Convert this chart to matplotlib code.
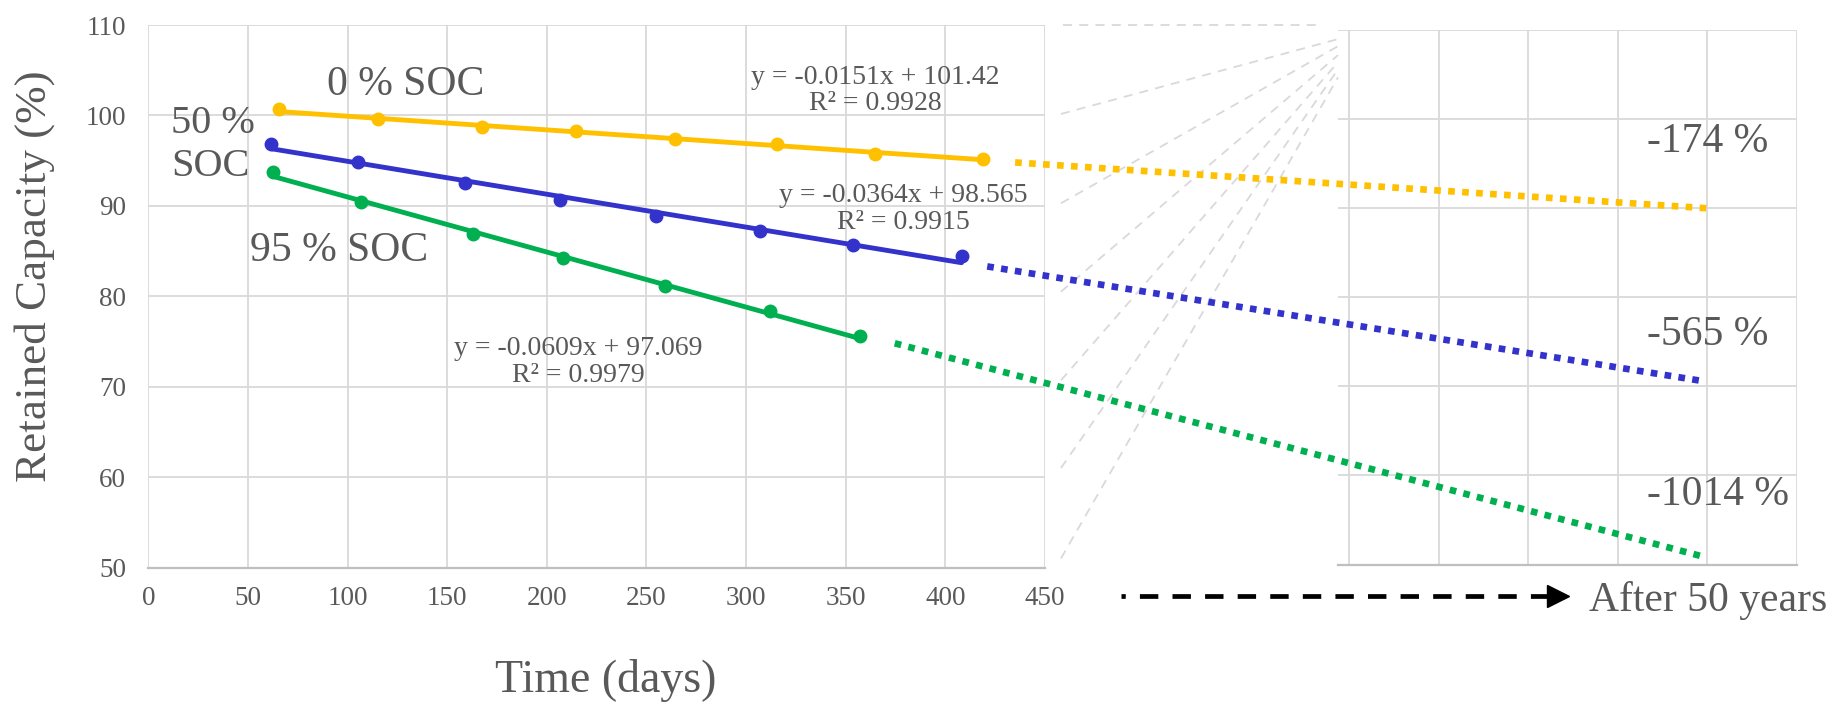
import matplotlib.pyplot as plt

plt.rcParams['font.family'] = ['Liberation Serif', 'DejaVu Serif']

# measured retained capacity (%) vs storage time (days)
days_0 = [65.5, 115.5, 167.7, 214.4, 264.4, 315.3, 364.7, 418.9]
cap_0 = [100.69, 99.58, 98.73, 98.29, 97.40, 96.85, 95.75, 95.23]
days_50 = [61.7, 105.4, 159.0, 206.4, 254.6, 307.1, 353.8, 408.1]
cap_50 = [96.85, 94.90, 92.54, 90.63, 88.90, 87.27, 85.69, 84.48]
days_95 = [62.5, 106.8, 163.0, 208.2, 259.4, 312.1, 357.2]
cap_95 = [93.72, 90.44, 86.91, 84.22, 81.08, 78.36, 75.60]

series_days = [days_0, days_50, days_95]
series_cap = [cap_0, cap_50, cap_95]
slopes = [-0.0151, -0.0364, -0.0609]
intercepts = [101.42, 98.565, 97.069]
r2 = [0.9928, 0.9915, 0.9979]
colors = ['#FFC000', '#3333CC', '#00B050']

# extrapolation: start on the days panel (days, %), end on the 50-year panel (column, %)
proj_start_x = [435, 421, 374.6]
proj_start_y = [94.8, 83.3, 74.8]
proj_end_x = [4.0, 3.95, 3.95]
proj_end_y = [90.0, 70.6, 50.9]
proj_labels = ['-174 %', '-565 %', '-1014 %']

# "zoom" fan lines between the panels
fan_from_y = [100.16, 90.28, 80.5, 70.7, 61.0, 51.0]
fan_to_y = [109.0, 108.2, 107.2, 106.4, 105.6, 104.7]

W, H = 1843, 707
txt = '#595959'
grid = '#D9D9D9'

fig = plt.figure(figsize=(W / 100, H / 100), dpi=100)


def box(l, t, r, b):
    return [l / W, 1 - b / H, (r - l) / W, (b - t) / H]


ax1 = fig.add_axes(box(148.3, 25, 1045, 567.5))
ax2 = fig.add_axes(box(1338, 30.2, 1796.6, 564.5))
ax2.patch.set_visible(False)

for ax in (ax1, ax2):
    for s in ('left', 'right', 'top'):
        ax.spines[s].set_visible(False)
    ax.spines['bottom'].set_color('#BFBFBF')
    ax.spines['bottom'].set_linewidth(1.6)
    ax.grid(True, color=grid, lw=1.3)
    ax.set_axisbelow(True)
    ax.set_ylim(50, 110)
    ax.set_yticks(range(50, 111, 10))

ax1.set_xlim(0, 450)
ax1.set_xticks(range(0, 451, 50))
ax1.tick_params(axis='both', length=0, labelsize=19.5, labelcolor=txt)
ax1.tick_params(axis='x', pad=13)
ax1.tick_params(axis='y', pad=16)

ax2.set_xlim(-0.127, 5)
ax2.set_xticks(range(0, 6))
ax2.tick_params(axis='both', length=0, labelbottom=False, labelleft=False)

# fitted lines + measured points
for d, c, m, b, col in zip(series_days, series_cap, slopes, intercepts, colors):
    xs = [d[0], d[-1]]
    ax1.plot(xs, [m * x + b for x in xs], color=col, lw=3.5, solid_capstyle='round', zorder=3)
    ax1.plot(d, c, 'o', color=col, ms=9, zorder=4)


def to_ax2(x, y):
    return ax2.transData.inverted().transform(ax1.transData.transform((x, y)))


# grey dashed fan lines
for y0, y1 in zip(fan_from_y, fan_to_y):
    sx, sy = to_ax2(458, y0)
    ax2.plot([sx, -0.127], [sy, y1], color=grid, lw=1.3, ls=(0, (5, 4)), clip_on=False, zorder=1)
sx, sy = to_ax2(459, 110)
ax2.plot([sx, -0.35], [sy, sy], color=grid, lw=1.3, ls=(0, (5, 4)), clip_on=False, zorder=1)

# dotted extrapolation to 50 years
for x0, y0, px, py, col in zip(proj_start_x, proj_start_y, proj_end_x, proj_end_y, colors):
    sx, sy = to_ax2(x0, y0)
    ax2.plot([sx, px], [sy, py], color=col, lw=4.8, ls=(0, (1, 1.1)),
             dash_capstyle='butt', clip_on=False, zorder=5)

# equations
for (tx, ty), m, b, r in zip([(364.6, 102.76), (379.1, 89.67), (215.7, 72.7)], slopes, intercepts, r2):
    ax1.text(tx, ty, f'y = {m}x + {b}\nR² = {r}', ha='center', va='center',
             fontsize=20, color=txt, linespacing=1.1, zorder=6)

# series labels
ax1.text(129.1, 103.4, '0 % SOC', ha='center', va='center', fontsize=30, color=txt)
ax1.text(11.5, 96.7, '50 %\nSOC', ha='left', va='center', fontsize=29, color=txt, linespacing=1.2)
ax1.text(95.5, 85.0, '95 % SOC', ha='center', va='center', fontsize=30, color=txt)

for lab, y in zip(proj_labels, [97.45, 75.76, 57.8]):
    ax2.text(3.33, y, lab, ha='left', va='center', fontsize=30, color=txt)

# dashed arrow towards "After 50 years"
ax2.plot([-2.557, 2.21], [46.46, 46.46], color='black', lw=3.4,
         ls=(3.0, (3.9, 3.0)), dash_capstyle='butt', clip_on=False)
ax2.plot([2.33], [46.46], marker='>', color='black', ms=16.3, clip_on=False)
ax2.text(2.676, 46.0, 'After 50 years', ha='left', va='center', fontsize=30, color=txt)

fig.text(35 / W, 1 - 276 / H, 'Retained Capacity (%)', rotation=90, ha='center', va='center',
         fontsize=32.5, color=txt)
fig.text(606 / W, 1 - 680 / H, 'Time (days)', ha='center', va='center', fontsize=33, color=txt)

fig.savefig('out.png', dpi=100)
